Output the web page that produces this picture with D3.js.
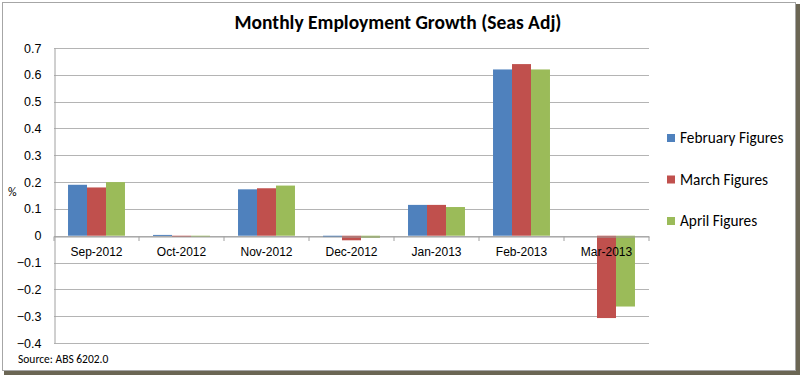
<!DOCTYPE html>
<html lang="en">
<head>
<meta charset="UTF-8">
<title>Monthly Employment Growth</title>
<script src="https://d3js.org/d3.v7.min.js"></script>
<style>
    body { margin: 0; background: #fff; }
    svg { display: block; font-family: Carlito, Lato, "Open Sans", sans-serif; }
</style>
</head>
<body>
<svg width="800" height="375"></svg>
<script>
    // data
    const months = ["Sep-2012", "Oct-2012", "Nov-2012", "Dec-2012", "Jan-2013", "Feb-2013", "Mar-2013"];
    const seriesNames = ["February Figures", "March Figures", "April Figures"];
    const seriesColors = ["#4f81bd", "#c0504d", "#9bbb59"];
    const febFigures = [0.19, 0.003, 0.173, -0.005, 0.115, 0.62, null];
    const marFigures = [0.18, 0.0, 0.177, -0.017, 0.115, 0.64, -0.307];
    const aprFigures = [0.20, -0.003, 0.187, -0.008, 0.107, 0.62, -0.264];
    const yTicks = [-0.4, -0.3, -0.2, -0.1, 0, 0.1, 0.2, 0.3, 0.4, 0.5, 0.6, 0.7];

    const series = [febFigures, marFigures, aprFigures];

    const svg = d3.select("svg");

    // frame + shadow
    svg.append("rect").attr("x", 0).attr("y", 0).attr("width", 800).attr("height", 375).attr("fill", "#fff");
    svg.append("rect").attr("x", 4).attr("y", 4).attr("width", 796).attr("height", 371).attr("fill", "#6b6654");
    svg.append("rect").attr("x", 2.5).attr("y", 2.5).attr("width", 793).attr("height", 368)
        .attr("fill", "#fff").attr("stroke", "#a6a6a6").attr("stroke-width", 1);

    const plotL = 54, plotR = 649, plotT = 48, plotB = 343;

    const x = d3.scaleBand().domain(months).range([plotL, plotR]).paddingInner(0.33).paddingOuter(0.165);
    const xs = d3.scaleBand().domain(d3.range(3)).range([0, x.bandwidth()]);
    const y = d3.scaleLinear().domain([-0.4, 0.7]).range([plotB, plotT]);

    // gridlines
    svg.append("g").selectAll("line").data(yTicks).join("line")
        .attr("x1", plotL).attr("x2", plotR)
        .attr("y1", d => Math.round(y(d)) + 0.5).attr("y2", d => Math.round(y(d)) + 0.5)
        .attr("stroke", "#b4b4b4").attr("stroke-width", 1);

    // y axis
    const yAxis = svg.append("g").attr("transform", `translate(${plotL + 0.5},0)`)
        .call(d3.axisLeft(y).tickValues(yTicks).tickSize(0).tickPadding(13).tickFormat(d => d3.format("")(+d.toFixed(1))));
    yAxis.select(".domain").attr("stroke", "#a0a0a0");
    yAxis.selectAll("text").attr("font-size", 12.5).attr("fill", "#000");

    // bars
    svg.append("g").selectAll("g").data(series).join("g")
        .attr("fill", (d, i) => seriesColors[i])
        .selectAll("rect")
        .data((vals, si) => vals.map((v, mi) => ({ v, mi, si })).filter(d => d.v !== null))
        .join("rect")
        .attr("x", d => x(months[d.mi]) + xs(d.si))
        .attr("width", xs.bandwidth())
        .attr("y", d => y(Math.max(0, d.v)))
        .attr("height", d => Math.max(1, Math.abs(y(d.v) - y(0))));

    // x axis at zero
    const xAxis = svg.append("g").attr("transform", `translate(0,${Math.round(y(0)) + 0.5})`)
        .call(d3.axisBottom(x).tickSize(0).tickPadding(11));
    xAxis.select(".domain").attr("stroke", "#a0a0a0");
    xAxis.selectAll("text").attr("font-size", 12).attr("fill", "#000");
    // category separators
    svg.append("g").selectAll("line").data(d3.range(months.length + 1)).join("line")
        .attr("x1", i => plotL + i * (plotR - plotL) / months.length)
        .attr("x2", i => plotL + i * (plotR - plotL) / months.length)
        .attr("y1", Math.round(y(0)) + 0.5).attr("y2", Math.round(y(0)) + 5)
        .attr("stroke", "#a0a0a0");

    // title
    svg.append("text").attr("x", 398).attr("y", 29).attr("text-anchor", "middle")
        .attr("font-size", 19.5).attr("font-weight", "bold").attr("fill", "#000")
        .text("Monthly Employment Growth (Seas Adj)");

    // y label
    svg.append("text").attr("x", 8).attr("y", 196).attr("font-size", 12).attr("fill", "#000").text("%");

    // source
    svg.append("text").attr("x", 18).attr("y", 363).attr("font-size", 11.5).attr("fill", "#000").text("Source: ABS 6202.0");

    // legend
    const legend = svg.append("g").selectAll("g").data(seriesNames).join("g")
        .attr("transform", (d, i) => `translate(667,${138 + i * 41.5})`);
    legend.append("rect").attr("x", 0).attr("y", -4).attr("width", 8).attr("height", 8)
        .attr("fill", (d, i) => seriesColors[i]);
    legend.append("text").attr("x", 13).attr("y", 0).attr("dy", "0.35em")
        .attr("font-size", 15.3).attr("fill", "#000").text(d => d);
</script>
</body>
</html>
